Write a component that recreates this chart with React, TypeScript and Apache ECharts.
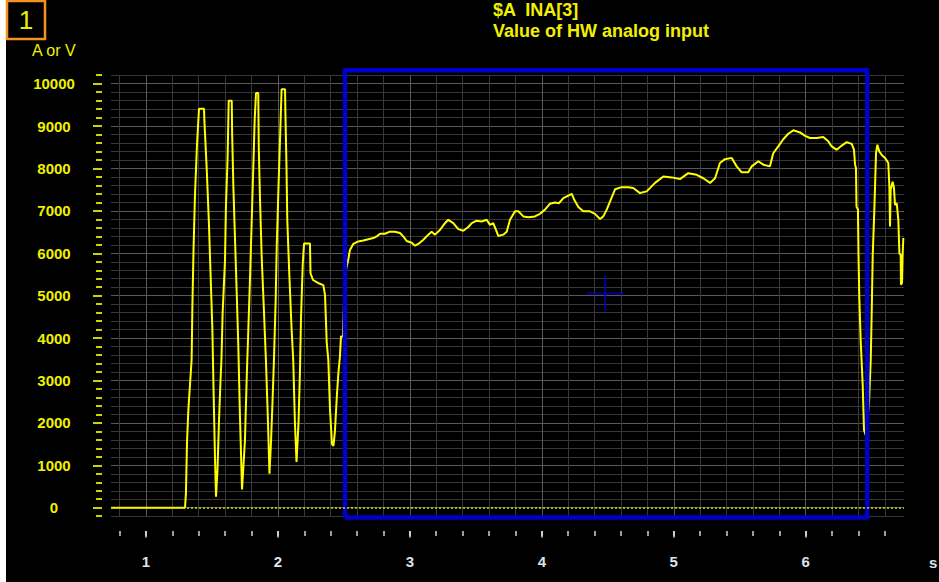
import React, { useEffect, useRef } from 'react';
import * as echarts from 'echarts';

// ---- data ----
const idleBurstTimes = [
  0.735, 1.296, 1.303, 1.311, 1.322, 1.346, 1.352, 1.36, 1.371, 1.387, 1.402, 1.44, 1.443, 1.46, 1.477, 1.49, 1.503, 1.512, 1.523, 1.531,
  1.542, 1.553, 1.565, 1.572, 1.581, 1.599, 1.606, 1.619, 1.627, 1.65, 1.653, 1.662, 1.675, 1.687, 1.7, 1.712, 1.728,
  1.739, 1.75, 1.763, 1.768, 1.775, 1.788, 1.801, 1.813, 1.824, 1.834, 1.851, 1.855, 1.864, 1.877, 1.894, 1.909, 1.925, 1.936,
  1.947, 1.959, 1.97, 1.983, 1.991, 2.003, 2.016, 2.028, 2.054, 2.057, 2.065, 2.071, 2.086, 2.104, 2.116, 2.129, 2.141,
  2.148, 2.156, 2.167, 2.175, 2.188, 2.198, 2.243, 2.247, 2.266, 2.304, 2.344, 2.357, 2.37, 2.382, 2.395, 2.41, 2.421,
  2.432, 2.448, 2.459, 2.47, 2.478, 2.493, 2.508, 2.533,
];
const idleBurstValues = [
  0, 0, 350, 1550, 2350, 3490, 4780, 6020, 7340, 8580, 9410, 9410, 9110, 8020, 6720, 5470, 4240, 2800, 1200, 260,
  900, 2000, 3000, 3490, 4590, 5840, 7100, 8280, 9600, 9600, 8840, 7620, 6320, 5140, 3800, 2200, 430,
  1000, 1580, 3000, 3490, 4120, 5370, 6720, 7970, 9150, 9780, 9780, 8490, 7310, 5920, 4650, 3490, 2000, 800,
  1500, 2500, 3490, 4900, 6160, 7420, 8680, 9870, 9870, 9270, 8050, 6790, 5530, 4190, 3490, 2000, 1080,
  1500, 2000, 3200, 4480, 5730, 6230, 6230, 5530, 5370, 5300, 5250, 5020, 3890, 3490, 2300, 1500, 1456,
  1800, 2700, 3200, 3560, 4040, 4040, 5500, 5846,
];
const rampTimes = [
  2.546, 2.571, 2.609, 2.647, 2.685, 2.723, 2.749, 2.774, 2.811, 2.849, 2.887, 2.925, 2.95, 2.976, 3.014, 3.039, 3.064,
  3.102, 3.14, 3.165, 3.19, 3.228, 3.266, 3.291, 3.329, 3.367, 3.405, 3.443, 3.469, 3.506, 3.544, 3.582, 3.607, 3.632,
  3.658, 3.67, 3.708, 3.734, 3.759, 3.797, 3.822, 3.86, 3.898, 3.948, 3.986, 4.024, 4.062, 4.1, 4.13, 4.163, 4.201,
  4.227, 4.246, 4.277, 4.314, 4.365, 4.403, 4.441, 4.466, 4.492, 4.53, 4.555, 4.605, 4.655, 4.693, 4.744, 4.795,
  4.858, 4.921, 4.984, 5.047, 5.11, 5.174, 5.224, 5.275, 5.313, 5.35, 5.388, 5.439, 5.477, 5.515, 5.565, 5.591,
  5.641, 5.679, 5.729, 5.754, 5.792, 5.83, 5.868, 5.906, 5.957, 5.995, 6.033, 6.083, 6.133, 6.171, 6.197, 6.235,
  6.273, 6.311, 6.349, 6.366,
];
const rampValues = [
  6080, 6220, 6280, 6300, 6330, 6360, 6400, 6460, 6460, 6510, 6510, 6480, 6400, 6290, 6250, 6180, 6220,
  6320, 6440, 6510, 6440, 6550, 6710, 6790, 6710, 6570, 6530, 6620, 6710, 6770, 6750, 6790, 6670, 6710,
  6510, 6410, 6440, 6510, 6790, 6990, 6990, 6870, 6850, 6870, 6930, 7030, 7170, 7200, 7180, 7300, 7360,
  7400, 7260, 7090, 6990, 6990, 6930, 6810, 6870, 7030, 7320, 7510, 7560, 7560, 7540, 7420, 7460,
  7660, 7810, 7790, 7750, 7890, 7850, 7770, 7660, 7770, 8130, 8220, 8250, 8050, 7910, 7910, 8050,
  8170, 8090, 8050, 8360, 8520, 8690, 8820, 8900, 8850, 8770, 8720, 8720, 8740, 8640, 8520, 8440,
  8540, 8620, 8580, 8440,
];
const dropTimes = [
  6.374, 6.381, 6.385, 6.396, 6.4, 6.406, 6.417, 6.432, 6.442, 6.457, 6.48, 6.493, 6.501, 6.508, 6.521, 6.533, 6.543,
  6.558, 6.576, 6.601, 6.626, 6.634, 6.639, 6.644, 6.659, 6.669, 6.677, 6.69, 6.702, 6.71, 6.72, 6.722, 6.73, 6.735, 6.74,
];
const dropValues = [
  8090, 8010, 7100, 7030, 6000, 4980, 3920, 2900, 1830, 1700, 2500, 3490, 4740, 5960, 7100, 8360, 8560,
  8400, 8320, 8250, 8130, 7580, 6630, 7500, 7690, 7540, 7140, 7180, 6790, 6000, 5960, 5260, 5300, 6000, 6360,
];

const xGridTicks = [0.8, 1.0, 1.2, 1.4, 1.6, 1.8, 2.0, 2.2, 2.4, 2.6, 2.8, 3.0, 3.2, 3.4, 3.6, 3.8, 4.0, 4.2, 4.4, 4.6, 4.8, 5.0, 5.2, 5.4, 5.6, 5.8, 6.0, 6.2, 6.4, 6.6];
const xMinorRange = [0.8, 6.6];
const xMajorRange = [1, 6];
const yMajorRange = [0, 10000];
const selectionTimes = [2.508, 6.466];
const selectionValues = [-231, 10318];
const cursorPoint = [4.48, 5050];

const X_MIN = 0.735;
const X_MAX = 6.745;
const Y_MIN = -200;
const Y_MAX = 10200;

const YEL = '#f0f000';
const MINOR = '#383838';
const MAJOR = '#5a5a5a';
const BLUE = '#0000cc';
const FONT = 'Liberation Sans';

// main plot geometry (pixels)
const PL = 111, PR = 904, PT = 75.2, PB = 516.2, W = 939, H = 582;
const pxPerS = (PR - PL) / (X_MAX - X_MIN);
const pxPerV = (PB - PT) / (Y_MAX - Y_MIN);
const xPix = (t: number) => PL + (t - X_MIN) * pxPerS;
const yPix = (v: number) => PB - (v - Y_MIN) * pxPerV;

export default function App() {
  const ref = useRef<HTMLDivElement>(null);

  useEffect(() => {
    if (!ref.current) return;
    const chart = echarts.init(ref.current, undefined, { renderer: 'svg' });

    const signal = [
      ...idleBurstTimes.map((t, i) => [t, idleBurstValues[i]]),
      ...rampTimes.map((t, i) => [t, rampValues[i]]),
      ...dropTimes.map((t, i) => [t, dropValues[i]]),
    ];
    const [s0, s1] = selectionTimes;
    const [v0, v1] = selectionValues;
    const box = [[s0, v0], [s1, v0], [s1, v1], [s0, v1], [s0, v0]];

    const TICK_Y = 531;
    const hiddenY = (gridIndex: number) => ({
      type: 'value', gridIndex, min: 0, max: 1, show: false,
      axisLine: { show: false }, axisTick: { show: false }, axisLabel: { show: false }, splitLine: { show: false },
    });

    const option = {
      animation: false,
      backgroundColor: '#000000',
      grid: [
        // 0: plot area
        { left: PL, right: W - PR, top: PT, bottom: H - PB, containLabel: false, outerBoundsMode: 'none' },
        // 1: x minor ticks strip
        { left: xPix(xMinorRange[0]), right: W - xPix(xMinorRange[1]), top: TICK_Y - 1, bottom: H - TICK_Y, containLabel: false, outerBoundsMode: 'none' },
        // 2: x major ticks + labels strip
        { left: xPix(xMajorRange[0]), right: W - xPix(xMajorRange[1]), top: TICK_Y - 1, bottom: H - TICK_Y, containLabel: false, outerBoundsMode: 'none' },
        // 3: y major ticks + labels
        { left: PL - 9, right: W - PR, top: yPix(yMajorRange[1]), bottom: H - yPix(yMajorRange[0]), containLabel: false, outerBoundsMode: 'none' },
      ],
      xAxis: [
        {
          type: 'value', gridIndex: 0, min: X_MIN, max: X_MAX, position: 'bottom',
          axisLine: { show: false },
          axisTick: { show: false, customValues: xGridTicks },
          axisLabel: { show: false },
          splitLine: { show: true, lineStyle: { color: [MINOR, MAJOR, MINOR, MINOR, MINOR], width: 1 } },
        },
        {
          type: 'value', gridIndex: 1, min: xMinorRange[0], max: xMinorRange[1], interval: 0.2, position: 'bottom',
          axisLine: { show: false },
          axisTick: { show: true, length: 5, lineStyle: { color: '#d0d0d0', width: 1.5 } },
          axisLabel: { show: false },
          splitLine: { show: false },
        },
        {
          type: 'value', gridIndex: 2, min: xMajorRange[0], max: xMajorRange[1], interval: 1, position: 'bottom',
          axisLine: { show: false },
          axisTick: { show: true, length: 6.5, lineStyle: { color: '#e0e0e0', width: 1.5 } },
          axisLabel: {
            show: true, margin: 23, color: '#dbe3ec',
            fontFamily: FONT, fontSize: 15, fontWeight: 'bold', formatter: (v: number) => String(v),
          },
          splitLine: { show: false },
        },
        {
          type: 'value', gridIndex: 3, min: 0, max: 1, show: false,
          axisLine: { show: false }, axisTick: { show: false }, axisLabel: { show: false }, splitLine: { show: false },
        },
      ],
      yAxis: [
        {
          type: 'value', gridIndex: 0, min: Y_MIN, max: Y_MAX, interval: 200, position: 'left', offset: 9,
          axisLine: { show: false },
          axisTick: { show: true, length: 6, lineStyle: { color: '#d2d200', width: 2 } },
          axisLabel: { show: false },
          splitLine: { show: true, lineStyle: { color: [MINOR, MAJOR, MINOR, MINOR, MINOR], width: 1 } },
        },
        hiddenY(1),
        hiddenY(2),
        {
          type: 'value', gridIndex: 3, min: yMajorRange[0], max: yMajorRange[1], interval: 1000, position: 'left',
          axisLine: { show: false },
          axisTick: { show: true, length: 9, lineStyle: { color: '#d2d200', width: 2 } },
          axisLabel: {
            show: true, margin: 48, align: 'center', padding: [0, 0, 9, 0],
            color: YEL, fontFamily: FONT, fontSize: 15, fontWeight: 'bold', formatter: (v: number) => String(v),
          },
          splitLine: { show: false },
        },
      ],
      series: [
        {
          type: 'line', xAxisIndex: 0, yAxisIndex: 0, data: signal, symbol: 'none', showSymbol: false,
          silent: true, z: 2,
          lineStyle: { color: '#ffff00', width: 2 },
          markLine: {
            silent: true, symbol: ['none', 'none'], label: { show: false },
            lineStyle: { color: '#d8d800', type: [2, 2], width: 1.5 },
            data: [{ yAxis: 0 }],
          },
        },
        {
          type: 'line', xAxisIndex: 0, yAxisIndex: 0, data: box, symbol: 'none', showSymbol: false,
          silent: true, clip: false, z: 4,
          lineStyle: { color: BLUE, width: 4.4, join: 'round' },
        },
        {
          type: 'scatter', xAxisIndex: 0, yAxisIndex: 0, data: [cursorPoint], silent: true, z: 4,
          symbol: 'path://M0,17H36V19H0Z M17,0H19V36H17Z', symbolSize: 36,
          itemStyle: { color: '#0000c0' },
        },
      ],
      graphic: [
        { type: 'rect', shape: { x: 0, y: 0, width: 6, height: H }, style: { fill: '#ffffff' }, z: 100 },
        { type: 'rect', shape: { x: 7, y: 1, width: 38, height: 38 }, style: { fill: 'none', stroke: '#f5921e', lineWidth: 2.5 }, z: 100 },
        { type: 'text', x: 26, y: 20, z: 100, style: { text: '1', fill: '#e8f000', fontFamily: FONT, fontSize: 26, align: 'center', verticalAlign: 'middle' } },
        { type: 'text', x: 32, y: 50, z: 100, style: { text: 'A or V', fill: YEL, fontFamily: FONT, fontSize: 16, align: 'left', verticalAlign: 'middle' } },
        { type: 'text', x: 493, y: 10, z: 100, style: { text: '$A \u00a0INA[3]', fill: YEL, fontFamily: FONT, fontSize: 18, fontWeight: 'bold', align: 'left', verticalAlign: 'middle' } },
        { type: 'text', x: 493, y: 31, z: 100, style: { text: 'Value of HW analog input', fill: YEL, fontFamily: FONT, fontSize: 18, fontWeight: 'bold', align: 'left', verticalAlign: 'middle' } },
        { type: 'text', x: 929, y: 562, z: 100, style: { text: 's', fill: '#dbe3ec', fontFamily: FONT, fontSize: 15, fontWeight: 'bold', align: 'left', verticalAlign: 'middle' } },
      ],
    };

    chart.setOption(option as any);
    return () => chart.dispose();
  }, []);

  return (
    <div style={{ position: 'absolute', left: 0, top: 0, width: W, height: H, background: '#000' }}>
      <div ref={ref} style={{ width: W, height: H }} />
    </div>
  );
}
